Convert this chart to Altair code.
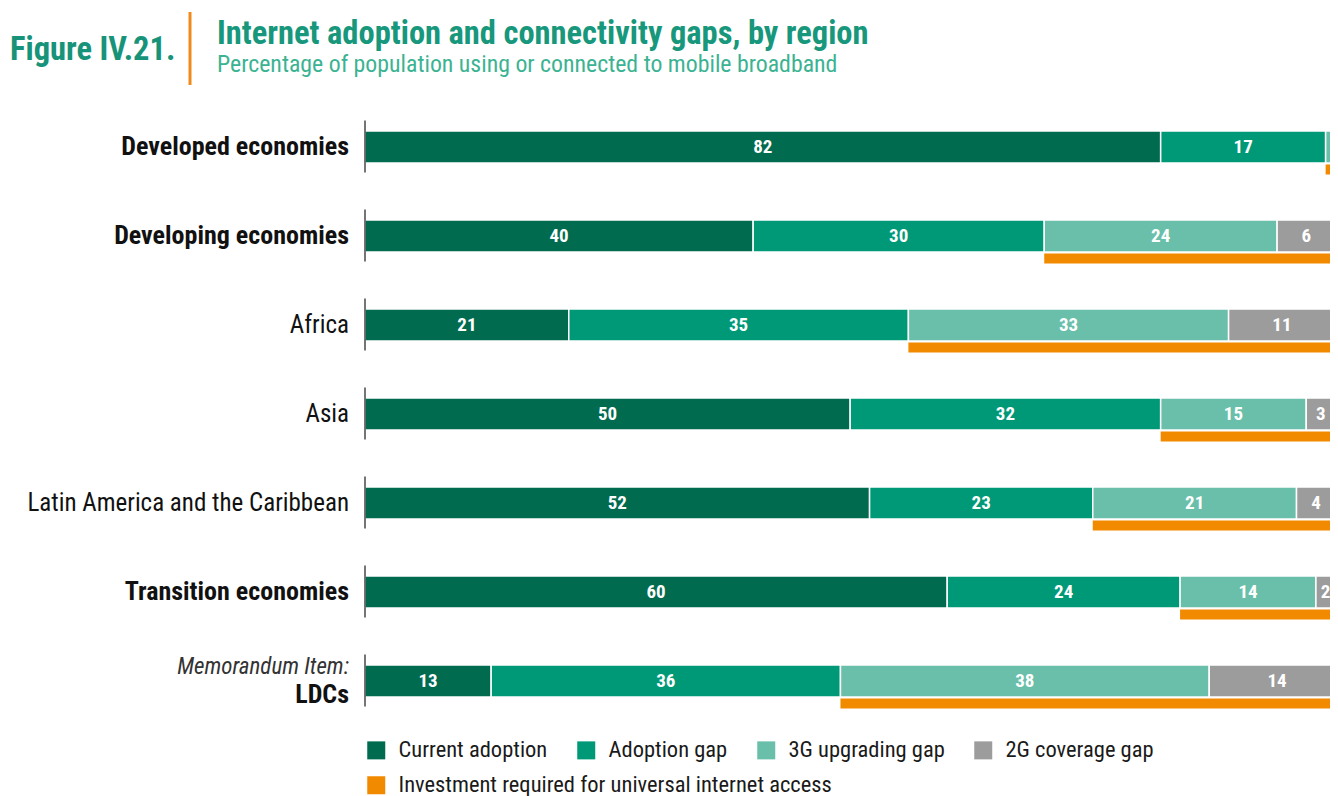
import altair as alt
import pandas as pd

regions = ["Developed economies", "Developing economies", "Africa", "Asia",
           "Latin America and the Caribbean", "Transition economies", "LDCs"]
label_weight = ["bold", "bold", "normal", "normal", "normal", "bold", "bold"]
current = [82, 40, 21, 50, 52, 60, 13]
adoption_gap = [17, 30, 35, 32, 23, 24, 36]
upgrade_3g = [2, 24, 33, 15, 21, 14, 38]
coverage_2g = [0, 6, 11, 3, 4, 2, 14]

segments = ["Current adoption", "Adoption gap", "3G upgrading gap", "2G coverage gap"]
seg_colors = ["#006B4F", "#009977", "#69BFA9", "#9C9C9C"]
invest_label = "Investment required for universal internet access"
invest_color = "#F28A00"

FONT = "Liberation Sans Narrow, Roboto Condensed, DejaVu Sans Condensed, sans-serif"

rows = []
for i, r in enumerate(regions):
    for j, (s, vals) in enumerate(zip(segments, [current, adoption_gap, upgrade_3g, coverage_2g])):
        rows.append({"region": r, "segment": s, "value": vals[i], "order": j})
df = pd.DataFrame(rows)
labels_df = pd.DataFrame({"region": regions, "weight": label_weight})

y_enc = alt.Y("region:N", sort=regions, scale=alt.Scale(paddingInner=0, paddingOuter=0), axis=None)
x_scale = alt.Scale(domain=[0, 99.45], nice=False, zero=True)

base = alt.Chart(df).transform_stack(
    stack="value", groupby=["region"], as_=["x0", "x1"], sort=[alt.SortField("order")]
)

legend_common = dict(orient="none", legendX=0, direction="horizontal", title=None,
                     symbolType="square", symbolSize=324, symbolStrokeWidth=0,
                     labelFontSize=22.5, labelFont=FONT, labelColor="#1a1a1a",
                     labelOffset=11, padding=0, symbolOpacity=1, labelLimit=0)

bars = base.mark_bar(size=32, yOffset=-6.5, stroke="white", strokeWidth=1.5, clip=True).encode(
    x=alt.X("x0:Q", scale=x_scale, axis=None),
    x2="x1:Q",
    y=y_enc,
    color=alt.Color("segment:N", scale=alt.Scale(domain=segments, range=seg_colors),
                    legend=alt.Legend(legendY=630, columnPadding=27, **legend_common)),
)

invest = base.transform_filter(alt.datum.segment == "3G upgrading gap").transform_calculate(
    inv="'" + invest_label + "'", xend="100"
).mark_bar(size=10, yOffset=16, clip=True).encode(
    x=alt.X("x0:Q", scale=x_scale, axis=None),
    x2="xend:Q",
    y=y_enc,
    color=alt.Color("inv:N", scale=alt.Scale(domain=[invest_label], range=[invest_color]),
                    legend=alt.Legend(legendY=665, **legend_common)),
)

nums = base.transform_filter(alt.datum.value > 0).transform_calculate(
    mid="(datum.x0 + datum.x1) / 2"
).mark_text(color="white", font=FONT, fontWeight="bold", fontSize=19, dy=-6.5,
            baseline="middle", clip=True).encode(
    x=alt.X("mid:Q", scale=x_scale, axis=None),
    y=y_enc,
    text="value:Q",
)

axis_ticks = alt.Chart(labels_df).mark_tick(size=52, thickness=2, color="#3a3a3a", yOffset=-7).encode(
    x=alt.datum(0, scale=x_scale),
    y=y_enc,
)

lab_base = alt.Chart(labels_df)
lab_bold = lab_base.transform_filter(
    (alt.datum.weight == "bold") & (alt.datum.region != "LDCs")
).mark_text(align="right", baseline="middle", font=FONT, fontWeight="bold", fontSize=26,
            color="#111", dy=-7).encode(x=alt.value(-16), y=y_enc, text="region:N")
lab_norm = lab_base.transform_filter(alt.datum.weight == "normal").mark_text(
    align="right", baseline="middle", font=FONT, fontSize=25, color="#111", dy=-7
).encode(x=alt.value(-16), y=y_enc, text="region:N")
lab_ldc = lab_base.transform_filter(alt.datum.region == "LDCs").mark_text(
    align="right", baseline="middle", font=FONT, fontWeight="bold", fontSize=26, color="#111", dy=7
).encode(x=alt.value(-16), y=y_enc, text="region:N")
lab_memo = lab_base.transform_filter(alt.datum.region == "LDCs").transform_calculate(
    memo="'Memorandum Item:'"
).mark_text(align="right", baseline="middle", font=FONT, fontStyle="italic", fontSize=23,
            color="#333", dy=-21).encode(x=alt.value(-16), y=y_enc, text="memo:N")

hdr = pd.DataFrame({"fig": ["Figure IV.21."],
                    "title": ["Internet adoption and connectivity gaps, by region"],
                    "sub": ["Percentage of population using or connected to mobile broadband"]})
h = alt.Chart(hdr)
fig_txt = h.mark_text(align="left", baseline="alphabetic", font=FONT, fontWeight="bold",
                      fontSize=32.5, color="#17937A").encode(x=alt.value(-355), y=alt.value(-49), text="fig:N")
title_txt = h.mark_text(align="left", baseline="alphabetic", font=FONT, fontWeight="bold",
                        fontSize=32.5, color="#17977B").encode(x=alt.value(-148), y=alt.value(-65), text="title:N")
sub_txt = h.mark_text(align="left", baseline="alphabetic", font=FONT,
                      fontSize=23.8, color="#3BB392").encode(x=alt.value(-148), y=alt.value(-37), text="sub:N")
orange_line = h.mark_rule(color="#F08A1C", strokeWidth=3).encode(
    x=alt.value(-175), y=alt.value(-97), y2=alt.value(-24))

chart = alt.layer(
    bars, invest, nums, axis_ticks, lab_bold, lab_norm, lab_ldc, lab_memo,
    fig_txt, title_txt, sub_txt, orange_line
).resolve_scale(color="independent").properties(
    width=965, height=623,
    padding={"left": 2, "top": 2, "right": 0, "bottom": 0},
).configure_view(stroke=None)

chart.save("out.html", embed_options={"renderer": "svg", "actions": False})
